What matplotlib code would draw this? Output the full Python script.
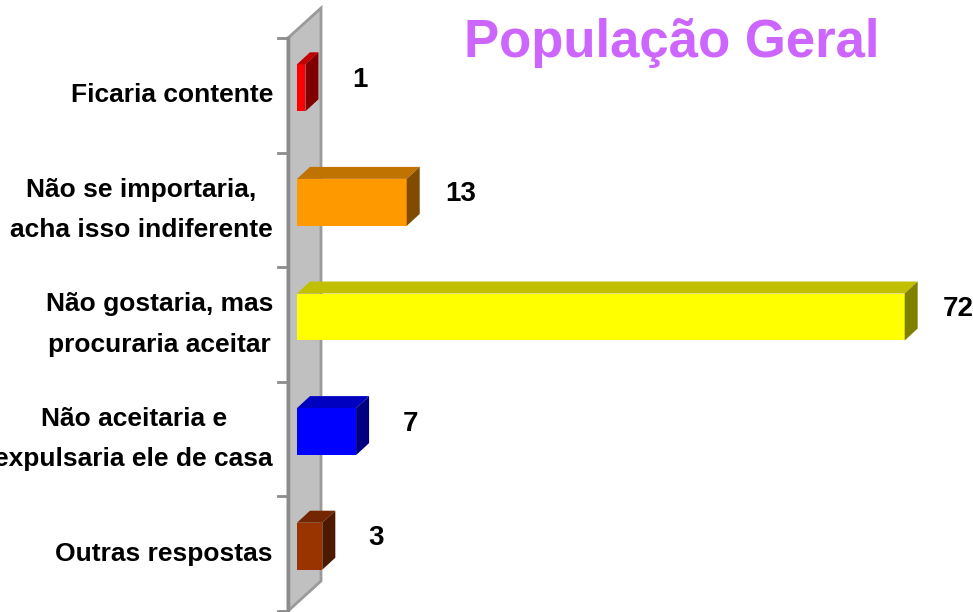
import matplotlib
matplotlib.use("Agg")
import matplotlib.pyplot as plt
from matplotlib.patches import Polygon

# ---- data ----
categories = ["Ficaria contente",
              "Não se importaria,\nacha isso indiferente",
              "Não gostaria, mas\nprocuraria aceitar",
              "Não aceitaria e\nexpulsaria ele de casa",
              "Outras respostas"]
values = [1, 13, 72, 7, 3]
front_colors = ["#FF0000", "#FF9900", "#FFFF00", "#0000FF", "#993300"]
top_colors = ["#C00000", "#C07300", "#C0C000", "#0000C0", "#732600"]
side_colors = ["#800000", "#804D00", "#808000", "#000080", "#4D1A00"]
title = "População Geral"

LAB_FONT, LAB_SIZE = "Liberation Sans", 19

# ---- layout (pixel scale helpers) ----
W, H = 973, 612
PX_PER_UNIT = 8.44      # horizontal pixels per value unit
PX_PER_CAT = 114.6      # vertical pixels per category
X0_PX, Y0_PX = 297, 38  # pixel location of value 0 / first tick

def ux(px):  # horizontal pixel distance -> data units
    return px / PX_PER_UNIT

def uy(px):  # vertical pixel distance -> data units
    return px / PX_PER_CAT

fig = plt.figure(figsize=(W / 100, H / 100), dpi=100)
ax = fig.add_axes([0, 0, 1, 1])
ax.set_xlim(-X0_PX / PX_PER_UNIT, (W - X0_PX) / PX_PER_UNIT)
ax.set_ylim((H - Y0_PX) / PX_PER_CAT, -Y0_PX / PX_PER_CAT)
ax.axis("off")

n = len(categories)

# wall
wl, wr = -ux(9), ux(24)
wdy = uy(30)
wall = Polygon([(wl, 0), (wr, -wdy), (wr, n - wdy), (wl, n)], closed=True,
               facecolor="#C0C0C0", edgecolor="#9A9A9A", linewidth=2, zorder=1)
ax.add_patch(wall)
ax.plot([wl, wl], [0, n], color="#8C8C8C", linewidth=2.5, zorder=2)
for i in range(n + 1):
    ax.plot([wl - ux(10), wl], [i, i], color="#8C8C8C", linewidth=2, zorder=2)

# bars
bh = uy(47)
ddx, ddy = ux(13), uy(12)
for i, (v, fc, tc, sc) in enumerate(zip(values, front_colors, top_colors, side_colors)):
    yc = i + 0.5 - uy(7.5)
    y_top, y_bot = yc - bh / 2, yc + bh / 2
    x1 = v
    front = Polygon([(0, y_top), (x1, y_top), (x1, y_bot), (0, y_bot)],
                    facecolor=fc, edgecolor="none", zorder=3)
    top = Polygon([(0, y_top), (ddx, y_top - ddy), (x1 + ddx, y_top - ddy), (x1, y_top)],
                  facecolor=tc, edgecolor="none", zorder=3)
    side = Polygon([(x1, y_top), (x1 + ddx, y_top - ddy), (x1 + ddx, y_bot - ddy), (x1, y_bot)],
                   facecolor=sc, edgecolor="none", zorder=3)
    for p in (front, top, side):
        ax.add_patch(p)
    ax.text(x1 + ux(54), yc - uy(8), str(v), ha="center", va="center",
            fontsize=20, fontweight="bold", family=LAB_FONT, color="black", zorder=4)

# category labels
for i, lab in enumerate(categories):
    ax.text(-ux(24), i + 0.5, lab, ha="right", va="center", multialignment="center",
            fontsize=LAB_SIZE, fontweight="bold", family=LAB_FONT,
            linespacing=1.85, color="black")

fig.text(672 / W, 1 - 57 / H, title, ha="center", va="baseline",
         fontsize=38, fontweight="bold", family="Liberation Sans", color="#CC66FF")

fig.savefig("out.png", dpi=100)
